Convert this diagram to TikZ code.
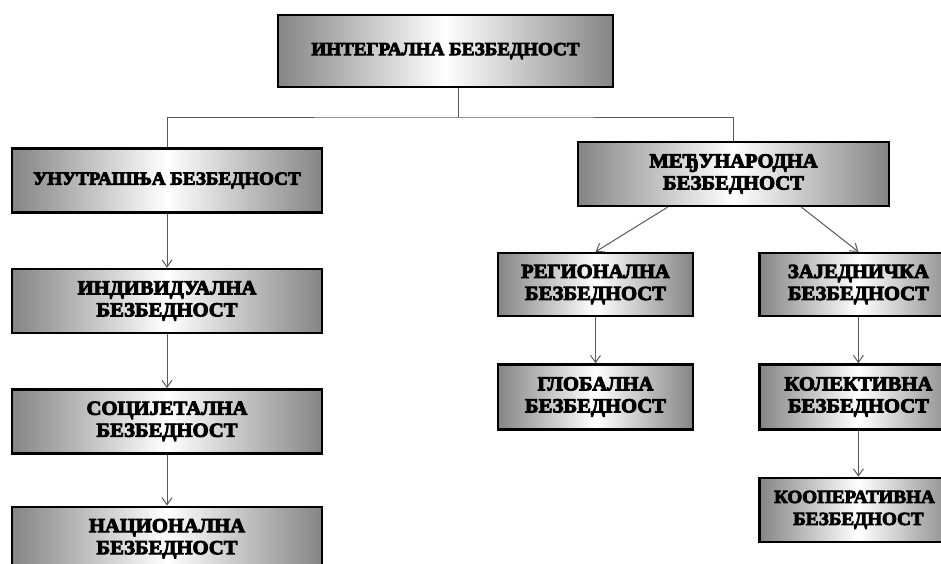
\documentclass[tikz,border=0pt]{standalone}
\usepackage{fontspec}
\newfontfamily\boxfont{Liberation Serif}[UprightFont=* Bold,FakeStretch=1.03,FakeBold=4.5]
\usetikzlibrary{arrows.meta,positioning}

\begin{document}
\begin{tikzpicture}[x=1pt,y=-1pt,>={Straight Barb[length=7pt,width=10pt]},
  box/.style={draw=black,line width=2.4pt,left color=black!48,right color=black!48,middle color=white,
    minimum height=64pt,align=center,inner sep=2pt,font=\boxfont\fontsize{20}{22}\selectfont},
  link/.style={draw=black!65,line width=1pt}]
  \useasboundingbox (0,0) rectangle (941,563);
  \clip (0,0) rectangle (941,563);
  % top level
  \node[box,minimum width=335pt,minimum height=72pt,font=\boxfont\fontsize{18.5}{21}\selectfont] (integ) at (445.5,51) {ИНТЕГРАЛНА БЕЗБЕДНОСТ};
  % left branch
  \node[box,minimum width=310pt,font=\boxfont\fontsize{18.5}{21}\selectfont] (unut) at (167,180.5) {УНУТРАШЊА БЕЗБЕДНОСТ};
  \node[box,minimum width=310pt,below=54pt of unut] (indiv) {ИНДИВИДУАЛНА\\БЕЗБЕДНОСТ};
  \node[box,minimum width=310pt,below=54pt of indiv] (soc) {СОЦИЈЕТАЛНА\\БЕЗБЕДНОСТ};
  \node[box,minimum width=310pt,below=51pt of soc] (nac) {НАЦИОНАЛНА\\БЕЗБЕДНОСТ};
  % right branch
  \node[box,minimum width=311pt] (medj) at (733.5,174) {МЕЂУНАРОДНА\\БЕЗБЕДНОСТ};
  \node[box,minimum width=195pt,minimum height=63pt] (reg) at (595.5,284.5) {РЕГИОНАЛНА\\БЕЗБЕДНОСТ};
  \node[box,minimum width=198pt,minimum height=63pt,right=64pt of reg] (zaj) {ЗАЈЕДНИЧКА\\БЕЗБЕДНОСТ};
  \node[box,minimum width=195pt,minimum height=65pt,below=46pt of reg] (glob) {ГЛОБАЛНА\\БЕЗБЕДНОСТ};
  \node[box,minimum width=198pt,minimum height=65pt,below=46pt of zaj] (kol) {КОЛЕКТИВНА\\БЕЗБЕДНОСТ};
  \node[box,minimum width=198pt,below=46pt of kol,font=\boxfont\fontsize{18.5}{22}\selectfont] (koop) {\hspace*{-8pt}КООПЕРАТИВНА\\БЕЗБЕДНОСТ};
  % connectors
  \coordinate (hub) at (458,117);
  \draw[link] (integ.south -| hub) -- (hub);
  \draw[link] (unut.north) |- (hub) -| (medj.north);
  \draw[link,->] (unut) -- (indiv);
  \draw[link,->] (indiv) -- (soc);
  \draw[link,->] (soc) -- (nac);
  \draw[link,->] ([xshift=-66pt]medj.south) -- (reg.north);
  \draw[link,->] ([xshift=68pt]medj.south) -- (zaj.north);
  \draw[link,->] (reg) -- (glob);
  \draw[link,->] (zaj) -- (kol);
  \draw[link,->] (kol) -- (koop);
\end{tikzpicture}
\end{document}
